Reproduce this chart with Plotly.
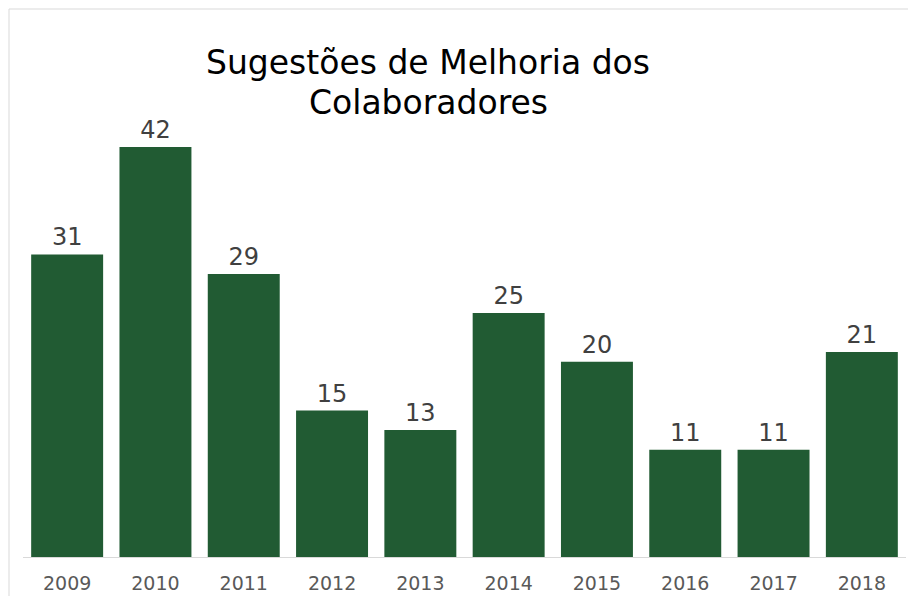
import plotly.graph_objects as go

# Suggestions submitted per year
years = ["2009", "2010", "2011", "2012", "2013", "2014", "2015", "2016", "2017", "2018"]
suggestions = [31, 42, 29, 15, 13, 25, 20, 11, 11, 21]
title_lines = ["Sugestões de Melhoria dos", "Colaboradores"]

W, H = 908, 596
ML, MR, MT, MB = 23, 2, 69, 39
PW, PH = W - ML - MR, H - MT - MB

def px_x(p):
    return (p - ML) / PW

def px_y(p):
    return (H - MB - p) / PH

bar_color = "#215B33"
font_family = "DejaVu Sans, Verdana, sans-serif"

fig = go.Figure(
    go.Bar(
        x=years,
        y=suggestions,
        marker=dict(color=bar_color, line=dict(width=0)),
        text=[str(v) for v in suggestions],
        textposition="outside",
        textfont=dict(family=font_family, size=24, color="#404040"),
        cliponaxis=False,
        hoverinfo="x+y",
    )
)

# two-line title, each line placed separately for tighter leading
title_annotations = [
    dict(
        text=line,
        x=px_x(428),
        y=px_y(yc),
        xref="paper",
        yref="paper",
        xanchor="center",
        yanchor="middle",
        showarrow=False,
        font=dict(family=font_family, size=33, color="#000000"),
    )
    for line, yc in zip(title_lines, [63, 102])
]

fig.update_layout(
    width=W,
    height=H,
    margin=dict(l=ML, r=MR, t=MT, b=MB),
    paper_bgcolor="white",
    plot_bgcolor="white",
    bargap=0.185,
    showlegend=False,
    font=dict(family=font_family),
    xaxis=dict(
        showline=True,
        linecolor="#d9d9d9",
        linewidth=1,
        ticks="",
        ticklabelstandoff=9,
        tickfont=dict(size=19, color="#595959"),
        showgrid=False,
        fixedrange=True,
    ),
    yaxis=dict(
        range=[0, 50],
        visible=False,
        showgrid=False,
        fixedrange=True,
    ),
    annotations=title_annotations,
    shapes=[
        # chart frame edges
        dict(type="line", xref="paper", yref="paper",
             x0=px_x(9), x1=px_x(908), y0=px_y(9), y1=px_y(9),
             line=dict(color="#d9d9d9", width=1)),
        dict(type="line", xref="paper", yref="paper",
             x0=px_x(9), x1=px_x(9), y0=px_y(9), y1=px_y(596),
             line=dict(color="#d9d9d9", width=1)),
    ],
)

fig.write_html("out.html")
